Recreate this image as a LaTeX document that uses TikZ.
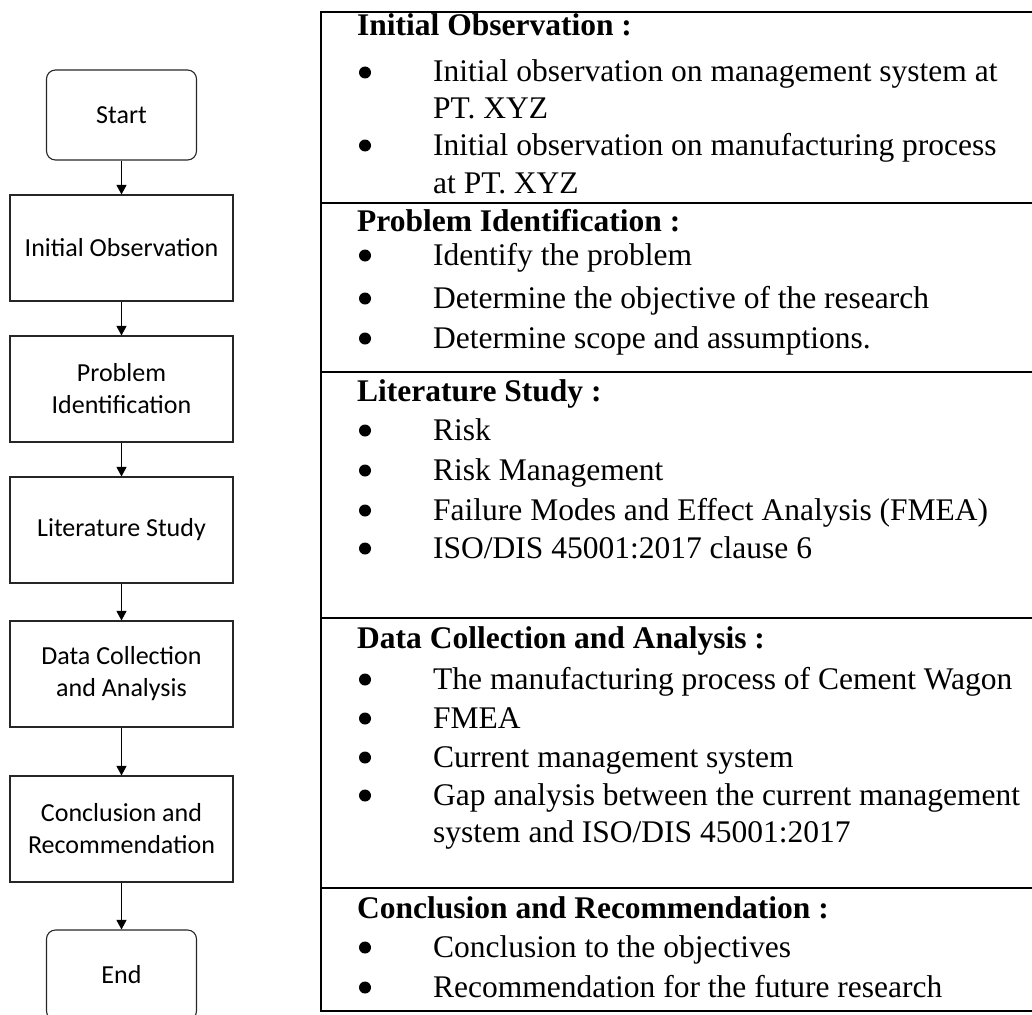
\documentclass[tikz,border=0pt]{standalone}
\usepackage{fontspec}
\setmainfont{Liberation Serif}
\newfontfamily\flowfont{Carlito}
\usetikzlibrary{arrows.meta,positioning}
\tikzset{
  flowbox/.style={draw=black!85, line width=1.1pt, minimum width=223pt, minimum height=106pt, align=center, inner sep=0pt, font=\flowfont\fontsize{26}{32}\selectfont},
  termbox/.style={flowbox, minimum width=150pt, minimum height=90pt, rounded corners=9pt},
  flowarrow/.style={draw=black, line width=1.1pt, -{Triangle[length=9.5pt,width=10pt]}},
  cell/.style={draw=black, line width=1.8pt, anchor=north west, inner sep=0pt, minimum width=720pt},
  head/.style={anchor=base west, inner sep=0pt, font=\bfseries\fontsize{31.5}{36}\selectfont},
  item/.style={anchor=base west, inner sep=0pt, font=\fontsize{31.5}{36}\selectfont},
  bul/.style={circle, fill=black, draw=none, inner sep=0pt, minimum size=12pt}
}
\begin{document}
\begin{tikzpicture}[x=1pt,y=-1pt]
\useasboundingbox (0,0) rectangle (1032,1014);
% flow chart
\node[termbox] (start) at (121.5,115) {Start};
\node[flowbox] (io) at (121.5,248) {Initial Observation};
\node[flowbox] (pi) at (121.5,389) {Problem\\Identification};
\node[flowbox] (ls) at (121.5,530) {Literature Study};
\node[flowbox] (dc) at (121.5,674) {Data Collection\\and Analysis};
\node[flowbox] (cr) at (121.5,829) {Conclusion and\\Recommendation};
\node[termbox] (end) at (121.5,975) {End};
\draw[flowarrow] (start) -- (io);
\draw[flowarrow] (io) -- (pi);
\draw[flowarrow] (pi) -- (ls);
\draw[flowarrow] (ls) -- (dc);
\draw[flowarrow] (dc) -- (cr);
\draw[flowarrow] (cr) -- (end);
% table cells
\node[cell, minimum height=191pt] (c1) at (320,11) {};
\node[cell, minimum height=169pt] (c2) at (320,202) {};
\node[cell, minimum height=246pt] (c3) at (320,371) {};
\node[cell, minimum height=270pt] (c4) at (320,617) {};
\node[cell, minimum height=123pt] (c5) at (320,887) {};
% row 1
\node[head] (h1) at (357,36) {Initial Observation :};
\node[bul] (b11) at (365,72.5) {};
\node[item] (t11) at (433,82) {Initial observation on management system at};
\node[item] (t12) at (433,118) {PT. XYZ};
\node[bul] (b12) at (365,145.5) {};
\node[item] (t13) at (433,155) {Initial observation on manufacturing process};
\node[item] (t14) at (433,193) {at PT. XYZ};
% row 2
\node[head] (h2) at (357,231) {Problem Identification :};
\node[bul] (b21) at (365,255.5) {};
\node[item] (t21) at (433,265) {Identify the problem};
\node[bul] (b22) at (365,298.5) {};
\node[item] (t22) at (433,308) {Determine the objective of the research};
\node[bul] (b23) at (365,338.5) {};
\node[item] (t23) at (433,348) {Determine scope and assumptions.};
% row 3
\node[head] (h3) at (357,401) {Literature Study :};
\node[bul] (b31) at (365,430.5) {};
\node[item] (t31) at (433,440) {Risk};
\node[bul] (b32) at (365,470.5) {};
\node[item] (t32) at (433,480) {Risk Management};
\node[bul] (b33) at (365,510.5) {};
\node[item] (t33) at (433,520) {Failure Modes and Effect Analysis (FMEA)};
\node[bul] (b34) at (365,548.5) {};
\node[item] (t34) at (433,558) {ISO/DIS 45001:2017 clause 6};
% row 4
\node[head] (h4) at (357,648) {Data Collection and Analysis :};
\node[bul] (b41) at (365,679.5) {};
\node[item] (t41) at (433,689) {The manufacturing process of Cement Wagon};
\node[bul] (b42) at (365,718.5) {};
\node[item] (t42) at (433,728) {FMEA};
\node[bul] (b43) at (365,757.5) {};
\node[item] (t43) at (433,767) {Current management system};
\node[bul] (b44) at (365,795.5) {};
\node[item] (t44) at (433,805) {Gap analysis between the current management};
\node[item] (t45) at (433,842) {system and ISO/DIS 45001:2017};
% row 5
\node[head] (h5) at (357,918) {Conclusion and Recommendation :};
\node[bul] (b51) at (365,947.5) {};
\node[item] (t51) at (433,957) {Conclusion to the objectives};
\node[bul] (b52) at (365,987.5) {};
\node[item] (t52) at (433,997) {Recommendation for the future research};
\end{tikzpicture}
\end{document}
